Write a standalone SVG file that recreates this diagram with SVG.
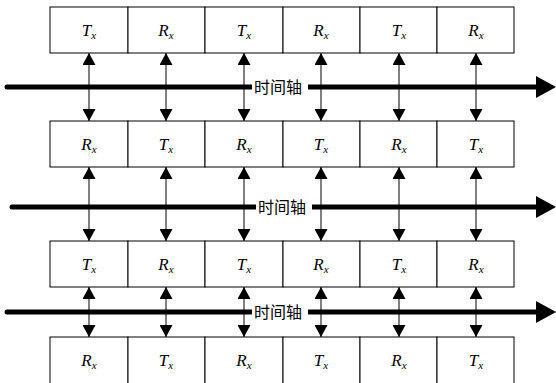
<svg xmlns="http://www.w3.org/2000/svg" width="556" height="383" viewBox="0 0 556 383">
<defs>
<style>
.cell{fill:#fff;stroke:#000;stroke-width:1}
.lbl{font-family:'Liberation Serif','Times New Roman',serif;font-style:italic;font-size:17px;text-anchor:middle;fill:#000}
.sub{font-size:11px}
.axis{stroke:#000;stroke-width:5;stroke-linecap:round}
.conn{stroke:#000;stroke-width:1}
.ax{font-family:'Noto Sans CJK SC','Noto Sans CJK JP',sans-serif;font-size:16px;fill:#000}
</style>
<marker id="ah" markerWidth="12" markerHeight="13" refX="12" refY="6.5" orient="auto-start-reverse" markerUnits="userSpaceOnUse">
<path d="M0,0 L12,6.5 L0,13 Z" fill="#000"/>
</marker>
</defs>
<rect width="556" height="383" fill="#fff"/>

<g id="axes">
<line class="axis" x1="7" y1="87" x2="538" y2="87"/>
<path d="M536,76 L556,87 L536,98 Z" fill="#000"/>
<line class="axis" x1="12" y1="207" x2="538" y2="207"/>
<path d="M536,196 L556,207 L536,218 Z" fill="#000"/>
<line class="axis" x1="7" y1="312" x2="538" y2="312"/>
<path d="M536,301 L556,312 L536,323 Z" fill="#000"/>
</g>

<g id="axis-labels">
<rect x="252" y="78" width="56" height="18" fill="#fff"/>
<text class="ax" x="254" y="93">时间轴</text>
<rect x="256" y="198" width="56" height="18" fill="#fff"/>
<text class="ax" x="258" y="213">时间轴</text>
<rect x="252" y="303" width="56" height="18" fill="#fff"/>
<text class="ax" x="254" y="318">时间轴</text>
</g>

<g id="connectors">
<g id="c1">
<line class="conn" x1="89" y1="53" x2="89" y2="121" marker-start="url(#ah)" marker-end="url(#ah)"/>
<line class="conn" x1="166" y1="53" x2="166" y2="121" marker-start="url(#ah)" marker-end="url(#ah)"/>
<line class="conn" x1="244" y1="53" x2="244" y2="121" marker-start="url(#ah)" marker-end="url(#ah)"/>
<line class="conn" x1="321" y1="53" x2="321" y2="121" marker-start="url(#ah)" marker-end="url(#ah)"/>
<line class="conn" x1="399" y1="53" x2="399" y2="121" marker-start="url(#ah)" marker-end="url(#ah)"/>
<line class="conn" x1="476" y1="53" x2="476" y2="121" marker-start="url(#ah)" marker-end="url(#ah)"/>
</g>
<g id="c2">
<line class="conn" x1="89" y1="167" x2="89" y2="241" marker-start="url(#ah)" marker-end="url(#ah)"/>
<line class="conn" x1="166" y1="167" x2="166" y2="241" marker-start="url(#ah)" marker-end="url(#ah)"/>
<line class="conn" x1="244" y1="167" x2="244" y2="241" marker-start="url(#ah)" marker-end="url(#ah)"/>
<line class="conn" x1="321" y1="167" x2="321" y2="241" marker-start="url(#ah)" marker-end="url(#ah)"/>
<line class="conn" x1="399" y1="167" x2="399" y2="241" marker-start="url(#ah)" marker-end="url(#ah)"/>
<line class="conn" x1="476" y1="167" x2="476" y2="241" marker-start="url(#ah)" marker-end="url(#ah)"/>
</g>
<g id="c3">
<line class="conn" x1="89" y1="287" x2="89" y2="337" marker-start="url(#ah)" marker-end="url(#ah)"/>
<line class="conn" x1="166" y1="287" x2="166" y2="337" marker-start="url(#ah)" marker-end="url(#ah)"/>
<line class="conn" x1="244" y1="287" x2="244" y2="337" marker-start="url(#ah)" marker-end="url(#ah)"/>
<line class="conn" x1="321" y1="287" x2="321" y2="337" marker-start="url(#ah)" marker-end="url(#ah)"/>
<line class="conn" x1="399" y1="287" x2="399" y2="337" marker-start="url(#ah)" marker-end="url(#ah)"/>
<line class="conn" x1="476" y1="287" x2="476" y2="337" marker-start="url(#ah)" marker-end="url(#ah)"/>
</g>
</g>

<g id="row1">
<g id="r1c1"><rect class="cell" x="50" y="7" width="78" height="46"/><text class="lbl" x="89" y="36">T<tspan class="sub" dy="3">x</tspan></text></g>
<g id="r1c2"><rect class="cell" x="128" y="7" width="77" height="46"/><text class="lbl" x="166" y="36">R<tspan class="sub" dy="3">x</tspan></text></g>
<g id="r1c3"><rect class="cell" x="205" y="7" width="78" height="46"/><text class="lbl" x="244" y="36">T<tspan class="sub" dy="3">x</tspan></text></g>
<g id="r1c4"><rect class="cell" x="283" y="7" width="77" height="46"/><text class="lbl" x="321" y="36">R<tspan class="sub" dy="3">x</tspan></text></g>
<g id="r1c5"><rect class="cell" x="360" y="7" width="77" height="46"/><text class="lbl" x="399" y="36">T<tspan class="sub" dy="3">x</tspan></text></g>
<g id="r1c6"><rect class="cell" x="437" y="7" width="77" height="46"/><text class="lbl" x="476" y="36">R<tspan class="sub" dy="3">x</tspan></text></g>
</g>

<g id="row2">
<g id="r2c1"><rect class="cell" x="50" y="121" width="78" height="46"/><text class="lbl" x="89" y="150">R<tspan class="sub" dy="3">x</tspan></text></g>
<g id="r2c2"><rect class="cell" x="128" y="121" width="77" height="46"/><text class="lbl" x="166" y="150">T<tspan class="sub" dy="3">x</tspan></text></g>
<g id="r2c3"><rect class="cell" x="205" y="121" width="78" height="46"/><text class="lbl" x="244" y="150">R<tspan class="sub" dy="3">x</tspan></text></g>
<g id="r2c4"><rect class="cell" x="283" y="121" width="77" height="46"/><text class="lbl" x="321" y="150">T<tspan class="sub" dy="3">x</tspan></text></g>
<g id="r2c5"><rect class="cell" x="360" y="121" width="77" height="46"/><text class="lbl" x="399" y="150">R<tspan class="sub" dy="3">x</tspan></text></g>
<g id="r2c6"><rect class="cell" x="437" y="121" width="77" height="46"/><text class="lbl" x="476" y="150">T<tspan class="sub" dy="3">x</tspan></text></g>
</g>

<g id="row3">
<g id="r3c1"><rect class="cell" x="50" y="241" width="78" height="46"/><text class="lbl" x="89" y="270">T<tspan class="sub" dy="3">x</tspan></text></g>
<g id="r3c2"><rect class="cell" x="128" y="241" width="77" height="46"/><text class="lbl" x="166" y="270">R<tspan class="sub" dy="3">x</tspan></text></g>
<g id="r3c3"><rect class="cell" x="205" y="241" width="78" height="46"/><text class="lbl" x="244" y="270">T<tspan class="sub" dy="3">x</tspan></text></g>
<g id="r3c4"><rect class="cell" x="283" y="241" width="77" height="46"/><text class="lbl" x="321" y="270">R<tspan class="sub" dy="3">x</tspan></text></g>
<g id="r3c5"><rect class="cell" x="360" y="241" width="77" height="46"/><text class="lbl" x="399" y="270">T<tspan class="sub" dy="3">x</tspan></text></g>
<g id="r3c6"><rect class="cell" x="437" y="241" width="77" height="46"/><text class="lbl" x="476" y="270">R<tspan class="sub" dy="3">x</tspan></text></g>
</g>

<g id="row4">
<g id="r4c1"><rect class="cell" x="50" y="337" width="78" height="50"/><text class="lbl" x="89" y="366">R<tspan class="sub" dy="3">x</tspan></text></g>
<g id="r4c2"><rect class="cell" x="128" y="337" width="77" height="50"/><text class="lbl" x="166" y="366">T<tspan class="sub" dy="3">x</tspan></text></g>
<g id="r4c3"><rect class="cell" x="205" y="337" width="78" height="50"/><text class="lbl" x="244" y="366">R<tspan class="sub" dy="3">x</tspan></text></g>
<g id="r4c4"><rect class="cell" x="283" y="337" width="77" height="50"/><text class="lbl" x="321" y="366">T<tspan class="sub" dy="3">x</tspan></text></g>
<g id="r4c5"><rect class="cell" x="360" y="337" width="77" height="50"/><text class="lbl" x="399" y="366">R<tspan class="sub" dy="3">x</tspan></text></g>
<g id="r4c6"><rect class="cell" x="437" y="337" width="77" height="50"/><text class="lbl" x="476" y="366">T<tspan class="sub" dy="3">x</tspan></text></g>
</g>
</svg>
